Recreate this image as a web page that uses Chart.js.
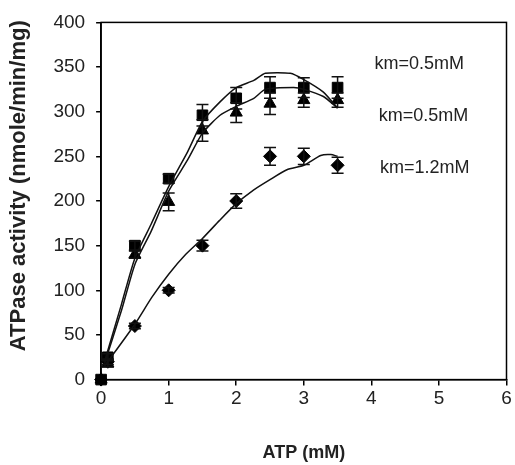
<!DOCTYPE html>
<html>
<head>
<meta charset="utf-8">
<script src="https://cdn.jsdelivr.net/npm/chart.js@4"></script>
<style>
  html, body { margin: 0; padding: 0; background: #fff; }
  #wrap { width: 515px; height: 465px; }
</style>
</head>
<body>
<div id="wrap"><canvas id="myChart" width="515" height="465"></canvas></div>
<script>
// measured points (ATP mM)
const atp = [0, 0.1, 0.5, 1, 1.5, 2, 2.5, 3, 3.5]
const squareVals = [0, 25, 150, 225, 296, 315, 327, 327, 327]
const squareErr = [0, 4, 5, 5, 12, 12, 12, 11, 12]
const triangleVals = [0, 18, 140, 199, 279, 299, 309, 313, 313]
const triangleErr = [0, 4, 4, 10, 12, 11, 12, 8, 8]
const diamondVals = [0, 20, 60, 100, 150, 200, 250, 250, 240]
const diamondErr = [0, 3, 3, 3, 6, 8, 10, 9, 9]

// fitted curves
const fitX1 = [0.05, 0.3, 0.5, 0.74, 1, 1.28, 1.5, 1.76, 2, 2.26, 2.43, 2.8, 3, 3.29, 3.5]
const fitY1 = [20, 84, 136, 174, 216, 255, 289, 311, 327, 335, 343, 343, 336, 322, 304]
const fitX2 = [0.05, 0.3, 0.5, 0.74, 1, 1.28, 1.5, 1.76, 2, 2.26, 2.43, 2.85, 3, 3.29, 3.5]
const fitY2 = [18, 77, 129, 166, 211, 246, 276, 296, 306, 315, 325, 327, 325, 317, 304]
const fitX3 = [0.05, 0.5, 0.75, 1, 1.25, 1.5, 1.75, 2, 2.25, 2.5, 2.75, 3, 3.25, 3.4, 3.5]
const fitY3 = [15, 62, 92, 118, 140, 158, 178, 197, 212, 224, 235, 240, 251, 252, 250]

const kmLabels = ['km=0.5mM', 'km=0.5mM', 'km=1.2mM']
const kmX = [4.71, 4.77, 4.79]
const kmY = [353, 295, 237]

const pts = (xs, ys) => xs.map((x, i) => ({x: x, y: ys[i]}))

const errorBars = {
    id: 'errorBars',
    afterDatasetsDraw(chart) {
        const {ctx, scales: {x, y}} = chart
        ctx.save()
        ctx.strokeStyle = '#111'
        ctx.lineWidth = 1.5
        chart.data.datasets.forEach(ds => {
            if (!ds.err) return
            ds.data.forEach((p, i) => {
                const e = ds.err[i]
                if (!e) return
                const px = x.getPixelForValue(p.x)
                const top = y.getPixelForValue(p.y + e)
                const bot = y.getPixelForValue(p.y - e)
                ctx.beginPath()
                ctx.moveTo(px, top); ctx.lineTo(px, bot)
                ctx.moveTo(px - 6, top); ctx.lineTo(px + 6, top)
                ctx.moveTo(px - 6, bot); ctx.lineTo(px + 6, bot)
                ctx.stroke()
            })
        })
        // frame
        const a = chart.chartArea
        ctx.strokeStyle = '#000'
        ctx.lineWidth = 1.5
        ctx.strokeRect(a.left, a.top, a.right - a.left, a.bottom - a.top)
        // km labels
        ctx.fillStyle = '#222'
        ctx.font = '18px "Liberation Sans", Arial, sans-serif'
        ctx.textAlign = 'center'
        ctx.textBaseline = 'middle'
        kmLabels.forEach((t, i) => {
            ctx.fillText(t, x.getPixelForValue(kmX[i]), y.getPixelForValue(kmY[i]))
        })
        ctx.restore()
    }
}

const ctx = document.getElementById('myChart').getContext('2d');
const lineStyle = {type: 'line', borderColor: '#111', borderWidth: 1.5, pointRadius: 0, tension: 0.2, fill: false}

const myChart = new Chart(ctx, {
    type: 'scatter',
    data: {
        datasets: [
            Object.assign({data: pts(fitX1, fitY1)}, lineStyle),
            Object.assign({data: pts(fitX2, fitY2)}, lineStyle),
            Object.assign({data: pts(fitX3, fitY3)}, lineStyle),
            {data: pts(atp, squareVals), err: squareErr, pointStyle: 'rect', pointRadius: 7.5, backgroundColor: '#000', borderColor: '#000'},
            {data: pts(atp, triangleVals), err: triangleErr, pointStyle: 'triangle', pointRadius: 7, backgroundColor: '#000', borderColor: '#000'},
            {data: pts(atp, diamondVals), err: diamondErr, pointStyle: 'rectRot', pointRadius: 6.5, backgroundColor: '#000', borderColor: '#000'}
        ]
    },
    options: {
        responsive: false,
        animation: false,
        clip: false,
        layout: {padding: {top: 16, right: 0, left: 2, bottom: 0}},
        plugins: {legend: {display: false}, tooltip: {enabled: false}},
        scales: {
            x: {
                min: 0, max: 6,
                ticks: {stepSize: 1, color: '#222', font: {size: 19, family: '"Liberation Sans", Arial'}, padding: 2, maxRotation: 0},
                grid: {drawOnChartArea: false, tickLength: 6, color: '#000', lineWidth: 1.5},
                border: {color: '#000', width: 1.5},
                title: {display: true, text: 'ATP (mM)', color: '#222', font: {size: 18, weight: 'bold', family: '"Liberation Sans", Arial'}, padding: {top: 30, bottom: 1}}
            },
            y: {
                min: 0, max: 400,
                ticks: {stepSize: 50, color: '#222', font: {size: 19, family: '"Liberation Sans", Arial'}, padding: 11},
                grid: {drawOnChartArea: false, tickLength: 5, color: '#000', lineWidth: 1.5},
                border: {color: '#000', width: 1.5},
                title: {display: true, text: '     ATPase activity (nmole/min/mg)', color: '#222', font: {size: 22, weight: 'bold', family: '"Liberation Sans", Arial'}, padding: {bottom: 10}}
            }
        }
    },
    plugins: [errorBars]
});
</script>
</body>
</html>
